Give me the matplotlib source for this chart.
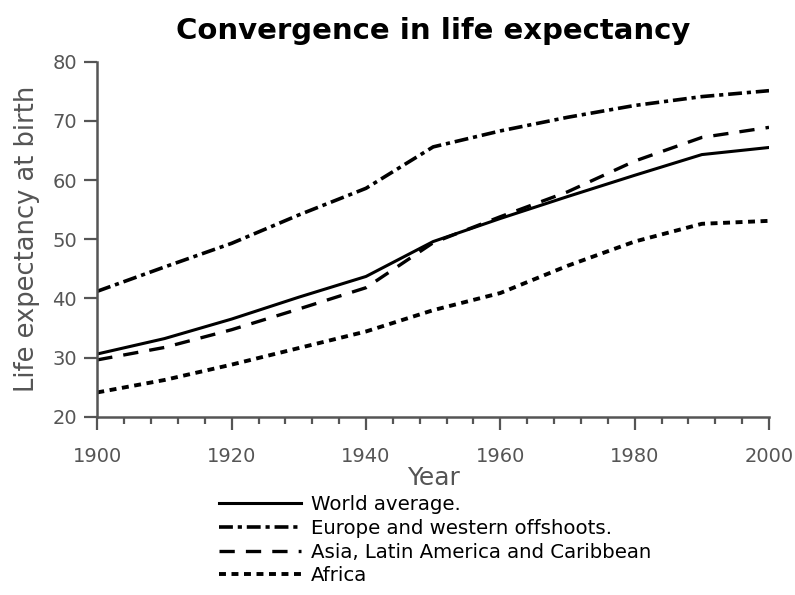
import matplotlib
matplotlib.use('Agg')
import matplotlib.pyplot as plt
from matplotlib.ticker import MultipleLocator

# decade values
years = [1900, 1910, 1920, 1930, 1940, 1950, 1960, 1970, 1980, 1990, 2000]
world = [30.6, 33.2, 36.5, 40.2, 43.7, 49.6, 53.5, 57.2, 60.8, 64.3, 65.5]
europe = [41.2, 45.3, 49.3, 54.1, 58.6, 65.6, 68.3, 70.6, 72.6, 74.1, 75.1]
asia = [29.6, 31.7, 34.7, 38.2, 41.8, 49.4, 53.8, 58.0, 63.2, 67.2, 68.9]
africa = [24.1, 26.2, 28.8, 31.6, 34.4, 38.0, 40.9, 45.5, 49.6, 52.6, 53.1]

labels = ['World average.', 'Europe and western offshoots.',
          'Asia, Latin America and Caribbean', 'Africa']

plt.rcParams['lines.scale_dashes'] = False
grey = '#555555'

fig = plt.figure(figsize=(7.95, 5.95), dpi=100)
ax = fig.add_axes([0.1224, 0.2997, 0.8449, 0.5966])

ax.plot(years, world, color='k', lw=2.2, label=labels[0])
ax.plot(years, europe, color='k', lw=2.6, dashes=(10, 3.5, 3, 3.5), label=labels[1])
ax.plot(years, asia, color='k', lw=2.4, dashes=(11, 8), label=labels[2])
ax.plot(years, africa, color='k', lw=2.8, dashes=(5, 4), label=labels[3])

ax.set_xlim(1900, 2000)
ax.set_ylim(20, 80)
ax.xaxis.set_major_locator(MultipleLocator(20))
ax.xaxis.set_minor_locator(MultipleLocator(4))
ax.yaxis.set_major_locator(MultipleLocator(10))

for s in ['top', 'right']:
    ax.spines[s].set_visible(False)
for s in ['left', 'bottom']:
    ax.spines[s].set_color(grey)
    ax.spines[s].set_linewidth(1.8)

ax.tick_params(axis='both', which='major', length=9.5, width=1.6, color=grey,
               labelcolor=grey, labelsize=14)
ax.tick_params(axis='x', which='major', pad=12)
ax.tick_params(axis='y', which='major', pad=5)
ax.tick_params(axis='x', which='minor', length=5, width=1.6, color=grey)

ax.set_xlabel('Year', fontsize=18, color=grey, labelpad=0)
ax.set_ylabel('Life expectancy at birth', fontsize=18.5, color=grey, labelpad=9)
ax.set_title('Convergence in life expectancy', fontsize=21, fontweight='bold', pad=16)

fig.legend(loc='upper left', bbox_to_anchor=(0.276, 0.168), frameon=False,
           fontsize=14.2, handlelength=4.15, handletextpad=0.5, labelspacing=0.24,
           borderpad=0, borderaxespad=0)

fig.savefig('out.png', dpi=100)
